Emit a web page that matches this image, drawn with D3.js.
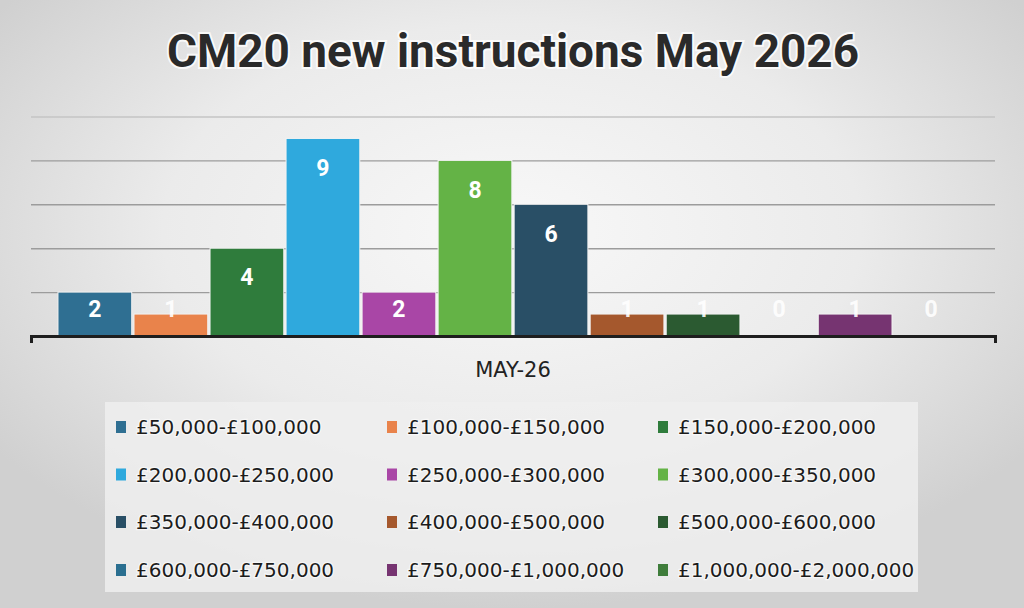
<!DOCTYPE html>
<html>
<head>
<meta charset="utf-8">
<script src="https://cdn.jsdelivr.net/npm/d3@7"></script>
<style>
  html, body { margin: 0; padding: 0; background: #e4e4e4; }
  svg { display: block; }
</style>
</head>
<body>
<svg id="chart" width="1024" height="608"></svg>
<script>
// chart data
const categories = ["MAY-26"];
const bands = [
  "£50,000-£100,000", "£100,000-£150,000", "£150,000-£200,000",
  "£200,000-£250,000", "£250,000-£300,000", "£300,000-£350,000",
  "£350,000-£400,000", "£400,000-£500,000", "£500,000-£600,000",
  "£600,000-£750,000", "£750,000-£1,000,000", "£1,000,000-£2,000,000"
];
const counts = [2, 1, 4, 9, 2, 8, 6, 1, 1, 0, 1, 0];
const gridTicks = [2, 4, 6, 8, 10];
const colors = [
  "#2f6f92", "#e9834b", "#2f7c3c", "#2fa9dd", "#a946a6", "#64b346",
  "#294f66", "#a5582d", "#2b5a31", "#2a6f90", "#763471", "#3f7d3b"
];

const svg = d3.select("#chart");
const W = 1024, H = 608;

// background: soft grey radial wash
const defs = svg.append("defs");
const bg = defs.append("radialGradient")
  .attr("id", "bg").attr("cx", "50%").attr("cy", "38%").attr("r", "62%");
bg.append("stop").attr("offset", "0%").attr("stop-color", "#f8f8f8");
bg.append("stop").attr("offset", "55%").attr("stop-color", "#ebebeb");
bg.append("stop").attr("offset", "100%").attr("stop-color", "#d0d0d0");
svg.append("rect").attr("width", W).attr("height", H).attr("fill", "url(#bg)");

// title
svg.append("text")
  .attr("x", 513).attr("y", 67)
  .attr("text-anchor", "middle")
  .attr("font-family", "Roboto, 'Noto Sans', sans-serif")
  .attr("font-weight", 700)
  .attr("font-size", 47)
  .attr("textLength", 692)
  .attr("lengthAdjust", "spacingAndGlyphs")
  .attr("fill", "#2a2a2a")
  .attr("stroke", "#ffffff").attr("stroke-width", 4).attr("stroke-opacity", 0.8)
  .attr("paint-order", "stroke")
  .text("CM20 new instructions May 2026");

// scales
const x0 = d3.scaleBand().domain(categories).range([31, 995])
  .paddingInner(0).paddingOuter(0.027);
const x1 = d3.scaleBand().domain(bands).range([0, x0.bandwidth()]).padding(0.03);
const y = d3.scaleLinear().domain([0, 10]).range([336, 116.5]);

// gridlines
const grid = svg.append("g")
  .attr("transform", "translate(31,0)")
  .call(d3.axisLeft(y).tickValues(gridTicks).tickSize(-964).tickFormat(""));
grid.select(".domain").remove();
grid.selectAll(".tick line")
  .attr("stroke", d => d === 10 ? "#c4c4c4" : "#9c9c9c")
  .attr("stroke-width", 1.4);

// bars
const g = svg.append("g");
const cat = g.selectAll("g.cat")
  .data(categories)
  .join("g")
  .attr("class", "cat")
  .attr("transform", d => `translate(${x0(d)},0)`);

const rows = bands.map((b, i) => ({ band: b, value: counts[i], color: colors[i] }));

cat.selectAll("rect")
  .data(rows)
  .join("rect")
  .attr("x", d => x1(d.band))
  .attr("y", d => y(d.value))
  .attr("width", x1.bandwidth())
  .attr("height", d => y(0) - y(d.value))
  .attr("fill", d => d.color)
  .attr("stroke", "#f2f2f2")
  .attr("stroke-width", d => d.value > 0 ? 1 : 0);

// value labels
cat.selectAll("text.val")
  .data(rows)
  .join("text")
  .attr("class", "val")
  .attr("x", d => x1(d.band) + x1.bandwidth() / 2)
  .attr("y", d => Math.min(y(d.value) + 29, y(0) - 27))
  .attr("dy", "0.36em")
  .attr("text-anchor", "middle")
  .attr("font-family", "Roboto, 'Noto Sans', sans-serif")
  .attr("font-weight", 700)
  .attr("font-size", 23)
  .attr("fill", "#ffffff")
  .attr("fill-opacity", d => d.value > 1 ? 1 : 0.9)
  .text(d => d.value);

// category axis
const xa = svg.append("g")
  .attr("transform", `translate(0,${y(0)})`)
  .call(d3.axisBottom(x0).tickSizeInner(0).tickSizeOuter(7).tickPadding(26));
xa.select(".domain").attr("stroke", "#1e1e1e").attr("stroke-width", 3);
xa.selectAll(".tick text")
  .attr("font-family", "'DejaVu Sans', sans-serif")
  .attr("font-size", 21)
  .attr("fill", "#222");

// legend
svg.append("rect")
  .attr("x", 105).attr("y", 402).attr("width", 813).attr("height", 190)
  .attr("fill", "#efefef").attr("fill-opacity", 0.85);

const colX = [116, 387, 658];
const rowY = [427, 474.5, 522, 570];
const leg = svg.append("g").selectAll("g")
  .data(rows)
  .join("g")
  .attr("transform", (d, i) => `translate(${colX[i % 3]},${rowY[Math.floor(i / 3)]})`);
leg.append("rect")
  .attr("x", 0).attr("y", -6).attr("width", 10).attr("height", 12)
  .attr("fill", d => d.color);
leg.append("text")
  .attr("x", 20).attr("dy", "0.36em")
  .attr("font-family", "'DejaVu Sans', sans-serif")
  .attr("font-size", 20)
  .attr("fill", "#1c1c1c")
  .attr("stroke", "#ffffff").attr("stroke-width", 2.5).attr("stroke-opacity", 0.6)
  .attr("paint-order", "stroke")
  .text(d => d.band);
</script>
</body>
</html>
